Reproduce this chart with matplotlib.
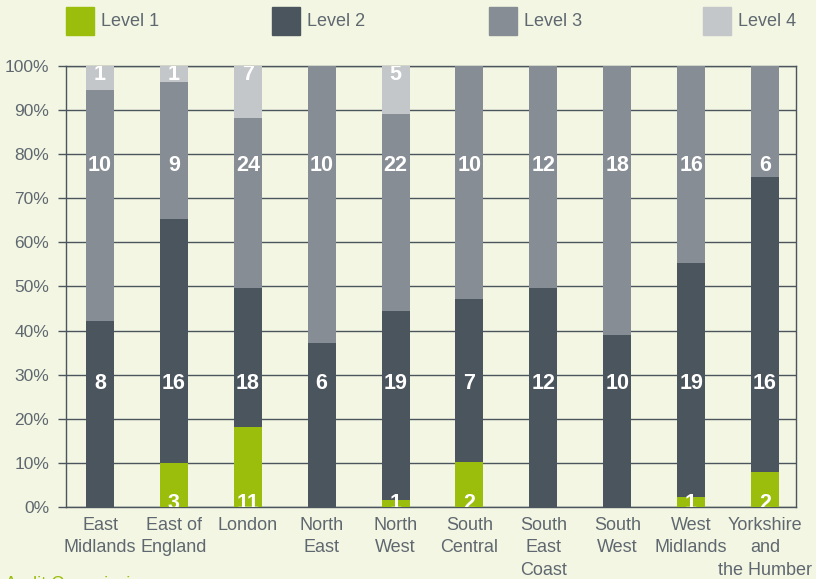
import matplotlib
matplotlib.use("Agg")
import matplotlib.pyplot as plt
import numpy as np
from matplotlib.patches import Rectangle

plt.rcParams["font.family"] = ["Liberation Sans", "DejaVu Sans"]

# ── 数据 ──
regions = ["East\nMidlands", "East of\nEngland", "London", "North\nEast", "North\nWest",
           "South\nCentral", "South\nEast\nCoast", "South\nWest", "West\nMidlands",
           "Yorkshire\nand\nthe Humber"]
levels = ["Level 1", "Level 2", "Level 3", "Level 4"]

# 各级别所占百分比
pct_l1 = [0, 10.0, 18.1, 0, 1.6, 10.2, 0, 0, 2.3, 7.9]
pct_l2 = [42.2, 55.3, 31.6, 37.2, 42.8, 37.0, 49.7, 39.0, 53.0, 66.9]
pct_l3 = [52.4, 31.1, 38.5, 62.8, 44.7, 52.8, 50.3, 61.0, 44.7, 25.2]
pct_l4 = [5.4, 3.6, 11.8, 0, 10.9, 0, 0, 0, 0, 0]

# 条内标注的数量
cnt_l1 = [0, 3, 11, 0, 1, 2, 0, 0, 1, 2]
cnt_l2 = [8, 16, 18, 6, 19, 7, 12, 10, 19, 16]
cnt_l3 = [10, 9, 24, 10, 22, 10, 12, 18, 16, 6]
cnt_l4 = [1, 1, 7, 0, 5, 0, 0, 0, 0, 0]

# ── 配色 ──
BG = "#f3f6e2"
COLORS = ["#9bbe0d", "#4b555e", "#878d94", "#c4c7c9"]
AXIS_COLOR = "#4b555e"
TEXT_COLOR = "#5f6870"

# 标注的固定高度（百分比）
LABEL_Y = [0.8, 28.0, 77.5, 98.0]

fig = plt.figure(figsize=(8.16, 5.79), dpi=100, facecolor=BG)
ax = fig.add_axes([0.0809, 0.1244, 0.8946, 0.7616], facecolor=BG)

x = np.arange(len(regions))
pcts = [pct_l1, pct_l2, pct_l3, pct_l4]
cnts = [cnt_l1, cnt_l2, cnt_l3, cnt_l4]

bottom = np.zeros(len(regions))
for i, (p, c) in enumerate(zip(pcts, cnts)):
    p = np.array(p)
    ax.bar(x, p, bottom=bottom, width=0.38, color=COLORS[i], zorder=3)
    for xi, val, n in zip(x, p, c):
        if n > 0:
            ax.text(xi, LABEL_Y[i], str(n), ha="center", va="center", color="white",
                    fontsize=15.5, fontweight="bold", zorder=4, clip_on=True)
    bottom += p

ax.set_xlim(-0.46, 9.42)
ax.set_ylim(0, 100)
ax.set_yticks(range(0, 101, 10))
ax.set_yticklabels([f"{v}%" for v in range(0, 101, 10)])
ax.set_xticks(x)
ax.set_xticklabels(regions, linespacing=1.42)
ax.tick_params(axis="y", length=6, width=1, color=AXIS_COLOR, labelcolor=TEXT_COLOR,
               labelsize=12.5, pad=6)
ax.tick_params(axis="x", length=0, labelcolor=TEXT_COLOR, labelsize=13, pad=7)
ax.grid(axis="y", color=AXIS_COLOR, linewidth=1, zorder=0)
for s in ax.spines.values():
    s.set_color(AXIS_COLOR)
    s.set_linewidth(1)

# ── 图例 ──
legend_x = [66, 272, 489, 703]
W, H = 816, 579
for lx, lab, col in zip(legend_x, levels, COLORS):
    fig.add_artist(Rectangle((lx / W, 1 - 35 / H), 28 / W, 28 / H,
                             transform=fig.transFigure, color=col))
    fig.text((lx + 35) / W, 1 - 21 / H, lab, ha="left", va="center",
             color=TEXT_COLOR, fontsize=13)

fig.text(5 / W, 1 - 576 / H, "Audit Commission", ha="left", va="top",
         color="#9bbe0d", fontsize=13)

fig.savefig("out.png", dpi=100, facecolor=BG)
